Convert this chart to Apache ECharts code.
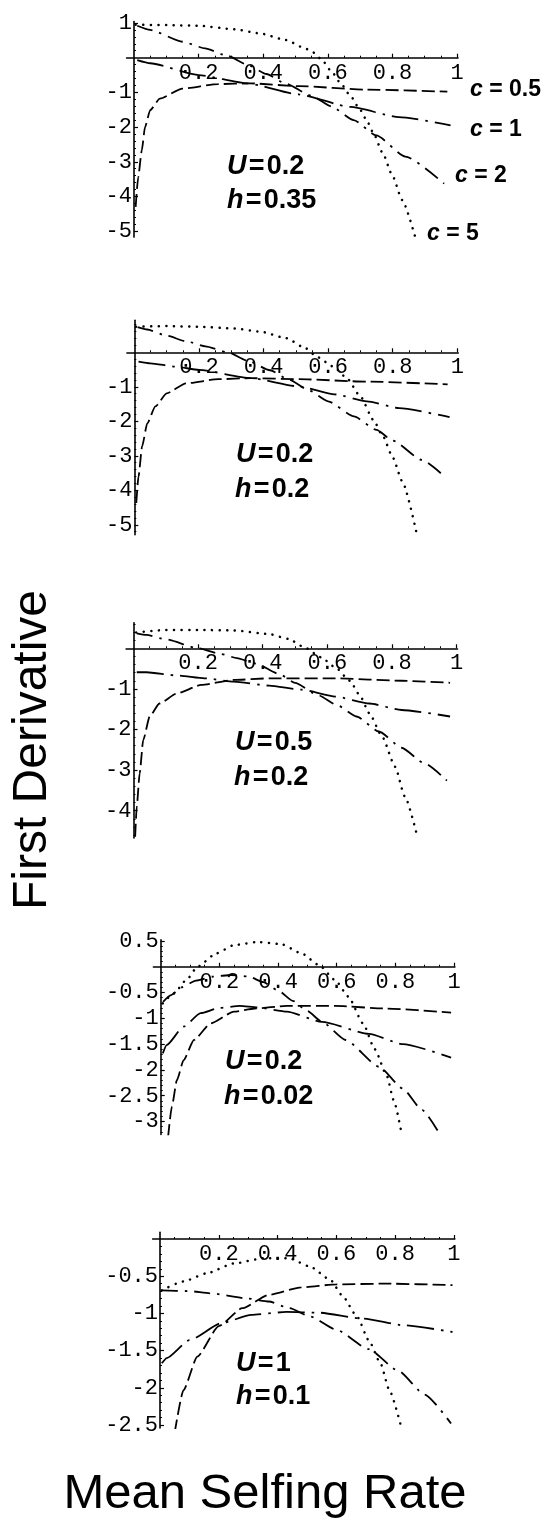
<!DOCTYPE html>
<html><head><meta charset="utf-8">
<script src="https://cdn.jsdelivr.net/npm/echarts@6/dist/echarts.min.js"></script>
<style>html,body{margin:0;padding:0;background:#fff}#c{width:546px;height:1523px}</style>
</head><body><div id="c"></div>
<script>
// ---------- data ----------
const xTickValues = [0.2, 0.4, 0.6, 0.8, 1];
const p1_yTicks = [1, -1, -2, -3, -4, -5];
const p2_yTicks = [-1, -2, -3, -4, -5];
const p3_yTicks = [-1, -2, -3, -4];
const p4_yTicks = [0.5, -0.5, -1, -1.5, -2, -2.5, -3];
const p5_yTicks = [-0.5, -1, -1.5, -2, -2.5];
const seriesNames = ['c = 0.5', 'c = 1', 'c = 2', 'c = 5'];
const panelU = ['0.2', '0.2', '0.5', '0.2', '1'];
const panelH = ['0.35', '0.2', '0.2', '0.02', '0.1'];

// Panel 1: U = 0.2, h = 0.35
const p1_c05 = [[0.005,-4.3],[0.013,-3.44],[0.024,-2.67],[0.034,-2.0],[0.05,-1.51],[0.08,-1.18],[0.15,-0.89],[0.26,-0.76],[0.36,-0.74],[0.51,-0.82],[0.72,-0.92],[0.97,-0.98]];
const p1_c1  = [[0.01,-0.07],[0.05,-0.16],[0.2,-0.5],[0.35,-0.74],[0.51,-1.06],[0.67,-1.42],[0.82,-1.71],[0.98,-1.95]];
const p1_c2  = [[0.01,0.92],[0.05,0.8],[0.15,0.46],[0.22,0.27],[0.29,0.05],[0.35,-0.2],[0.41,-0.47],[0.47,-0.75],[0.55,-1.1],[0.61,-1.4],[0.68,-1.8],[0.75,-2.24],[0.84,-2.85],[0.96,-3.63]];
const p1_c5  = [[0.005,0.95],[0.1,0.94],[0.2,0.92],[0.31,0.82],[0.39,0.7],[0.47,0.51],[0.53,0.27],[0.55,0.18],[0.58,-0.04],[0.61,-0.38],[0.64,-0.74],[0.67,-1.1],[0.7,-1.5],[0.72,-1.8],[0.74,-2.15],[0.77,-2.75],[0.8,-3.4],[0.83,-4.1],[0.87,-5.15]];

// Panel 2: U = 0.2, h = 0.2
const p2_c05 = [[0.006,-4.37],[0.013,-3.6],[0.024,-2.73],[0.04,-2.06],[0.065,-1.57],[0.1,-1.19],[0.16,-0.9],[0.26,-0.78],[0.36,-0.75],[0.51,-0.78],[0.72,-0.85],[0.97,-0.93]];
const p2_c1  = [[0.013,-0.27],[0.05,-0.32],[0.127,-0.415],[0.2,-0.51],[0.36,-0.75],[0.51,-0.99],[0.62,-1.22],[0.72,-1.42],[0.82,-1.62],[0.976,-1.88]];
const p2_c2  = [[0.01,0.73],[0.04,0.66],[0.1,0.48],[0.16,0.32],[0.22,0.17],[0.29,0.0],[0.35,-0.24],[0.42,-0.52],[0.48,-0.8],[0.54,-1.1],[0.6,-1.42],[0.68,-1.86],[0.75,-2.25],[0.8,-2.56],[0.89,-3.12],[0.96,-3.6]];
const p2_c5  = [[0.005,0.74],[0.1,0.76],[0.2,0.74],[0.31,0.69],[0.39,0.6],[0.47,0.41],[0.53,0.12],[0.565,-0.13],[0.617,-0.42],[0.658,-0.75],[0.7,-1.28],[0.74,-1.96],[0.77,-2.44],[0.8,-3.05],[0.83,-3.75],[0.875,-5.29]];

// Panel 3: U = 0.5, h = 0.2
const p3_c05 = [[0.005,-4.64],[0.01,-3.9],[0.019,-3.08],[0.03,-2.26],[0.05,-1.68],[0.08,-1.36],[0.135,-1.11],[0.21,-0.9],[0.31,-0.78],[0.42,-0.74],[0.625,-0.74],[0.83,-0.8],[0.98,-0.85]];
const p3_c1  = [[0.01,-0.59],[0.04,-0.59],[0.135,-0.67],[0.22,-0.74],[0.31,-0.82],[0.42,-0.92],[0.52,-1.02],[0.625,-1.19],[0.73,-1.36],[0.83,-1.52],[0.98,-1.68]];
const p3_c2  = [[0.01,0.37],[0.04,0.33],[0.1,0.22],[0.2,0.0],[0.27,-0.14],[0.32,-0.24],[0.38,-0.38],[0.45,-0.63],[0.5,-0.85],[0.57,-1.15],[0.63,-1.4],[0.69,-1.68],[0.76,-2.05],[0.83,-2.45],[0.9,-2.83],[0.97,-3.26]];
const p3_c5  = [[0.008,0.39],[0.1,0.45],[0.21,0.45],[0.31,0.44],[0.42,0.35],[0.48,0.23],[0.53,0.02],[0.58,-0.22],[0.625,-0.47],[0.67,-0.8],[0.7,-1.15],[0.73,-1.6],[0.77,-2.18],[0.81,-2.92],[0.84,-3.65],[0.88,-4.68]];

// Panel 4: U = 0.2, h = 0.02
const p4_c05 = [[0.025,-3.3],[0.038,-2.71],[0.055,-2.2],[0.078,-1.81],[0.113,-1.42],[0.17,-1.1],[0.25,-0.87],[0.32,-0.81],[0.43,-0.76],[0.595,-0.76],[0.77,-0.81],[0.99,-0.89]];
const p4_c1  = [[0.007,-1.68],[0.02,-1.52],[0.078,-1.16],[0.136,-0.9],[0.2,-0.8],[0.27,-0.76],[0.33,-0.79],[0.43,-0.87],[0.55,-1.07],[0.71,-1.3],[0.825,-1.5],[0.99,-1.76]];
const p4_c2  = [[0.008,-0.68],[0.035,-0.55],[0.07,-0.4],[0.12,-0.27],[0.18,-0.19],[0.24,-0.16],[0.3,-0.19],[0.35,-0.3],[0.4,-0.46],[0.45,-0.66],[0.5,-0.86],[0.55,-1.07],[0.63,-1.42],[0.745,-1.94],[0.825,-2.36],[0.89,-2.77],[0.95,-3.23]];
const p4_c5  = [[0.007,-0.71],[0.044,-0.52],[0.09,-0.24],[0.125,0.0],[0.19,0.26],[0.25,0.42],[0.33,0.48],[0.41,0.44],[0.48,0.26],[0.54,0.03],[0.595,-0.26],[0.64,-0.58],[0.69,-1.1],[0.73,-1.6],[0.77,-2.1],[0.795,-2.6],[0.82,-3.2]];

// Panel 5: U = 1, h = 0.1
const p5_c05 = [[0.05,-2.6],[0.08,-2.03],[0.127,-1.58],[0.2,-1.17],[0.28,-0.93],[0.37,-0.75],[0.48,-0.65],[0.6,-0.61],[0.77,-0.6],[0.995,-0.62]];
const p5_c1  = [[0.006,-1.67],[0.023,-1.6],[0.1,-1.36],[0.21,-1.13],[0.31,-1.02],[0.43,-0.98],[0.54,-0.99],[0.69,-1.07],[0.83,-1.16],[0.995,-1.25]];
const p5_c2  = [[0.006,-0.69],[0.1,-0.7],[0.17,-0.73],[0.3,-0.8],[0.37,-0.84],[0.44,-0.93],[0.51,-1.04],[0.6,-1.22],[0.71,-1.48],[0.81,-1.77],[0.9,-2.09],[0.99,-2.48]];
const p5_c5  = [[0.006,-0.69],[0.08,-0.57],[0.16,-0.46],[0.25,-0.33],[0.35,-0.26],[0.44,-0.26],[0.51,-0.37],[0.58,-0.55],[0.62,-0.76],[0.67,-1.04],[0.71,-1.36],[0.75,-1.67],[0.78,-2.03],[0.82,-2.52]];

// ---------- layout & style ----------
const panels = [
  {data:[p1_c05,p1_c1,p1_c2,p1_c5], yTicks:p1_yTicks, yMinorStep:0.2, yMajorStep:1,
   rect:{left:126.6, top:21.6, width:331.4, height:215.5}, x:[-0.023,1.003], y:[-5.17,1.04],
   uPos:[227,167], hPos:[227,200.5]},
  {data:[p2_c05,p2_c1,p2_c2,p2_c5], yTicks:p2_yTicks, yMinorStep:0.2, yMajorStep:1,
   rect:{left:126.9, top:320.2, width:331.4, height:214.6}, x:[-0.023,1.003], y:[-5.29,0.93],
   uPos:[236,454.5], hPos:[235,490]},
  {data:[p3_c05,p3_c1,p3_c2,p3_c5], yTicks:p3_yTicks, yMinorStep:0.2, yMajorStep:1,
   rect:{left:126.1, top:622.7, width:331.4, height:215.2}, x:[-0.023,1.003], y:[-4.67,0.63],
   uPos:[235,742.5], hPos:[234,778]},
  {data:[p4_c05,p4_c1,p4_c2,p4_c5], yTicks:p4_yTicks, yMinorStep:0.1, yMajorStep:0.5,
   rect:{left:153.4, top:939.9, width:301.5, height:194.5}, x:[-0.025,1.003], y:[-3.25,0.52],
   uPos:[225,1061.5], hPos:[224,1097]},
  {data:[p5_c05,p5_c1,p5_c2,p5_c5], yTicks:p5_yTicks, yMinorStep:0.1, yMajorStep:0.5,
   rect:{left:152.65, top:1232.3, width:302.2, height:195.7}, x:[-0.025,1.003], y:[-2.54,0.09],
   uPos:[236,1364], hPos:[236,1396.5]}
];

const lineStyles = [
  {color:'#000', width:1.8, type:[13,5]},
  {color:'#000', width:1.8, type:[27,7,2.5,7]},
  {color:'#000', width:1.8, type:[16,7,2.5,7]},
  {color:'#000', width:2.5, type:[0.1,7.5], cap:'round'}
];
const cLabelPos = [[470,90],[470,130],[455,176],[427,234]];

const MONO = '"Liberation Mono","Courier New",monospace';
const SANS = '"Liberation Sans",Arial,Helvetica,sans-serif';

function minorTicks(lo, hi, step, majorStep) {
  const out = [];
  const n0 = Math.ceil(lo / step - 1e-9), n1 = Math.floor(hi / step + 1e-9);
  for (let k = n0; k <= n1; k++) {
    const v = +(k * step).toFixed(4);
    if (Math.abs(v) < 1e-9) continue;
    const r = v / majorStep;
    if (Math.abs(r - Math.round(r)) < 1e-6) continue;
    out.push(v);
  }
  return out;
}

const option = {animation:false, backgroundColor:'#fff', grid:[], xAxis:[], yAxis:[], series:[], graphic:[]};

panels.forEach((p, i) => {
  const r = p.rect;
  option.grid.push({left:r.left, top:r.top, width:r.width, height:r.height, containLabel:false});
  const xi = option.xAxis.length, yi = option.yAxis.length;
  const xMinor = minorTicks(p.x[0], p.x[1], 0.05, 0.2);
  const yMinor = minorTicks(p.y[0], p.y[1], p.yMinorStep, p.yMajorStep);
  // shift axes from the grid edge to the zero crossing (axes cross at the origin)
  const xOff = -r.height * (-p.y[0]) / (p.y[1] - p.y[0]);
  const yOff = -r.width * (-p.x[0]) / (p.x[1] - p.x[0]);
  option.xAxis.push({type:'value', gridIndex:i, min:p.x[0], max:p.x[1], position:'bottom', offset:xOff,
    axisLine:{show:true, onZero:false, lineStyle:{color:'#000', width:1.6}},
    axisTick:{show:true, inside:true, length:4, customValues:xTickValues, lineStyle:{color:'#000', width:1.2}},
    axisLabel:{show:true, customValues:xTickValues, margin:4, fontFamily:MONO, fontSize:22, color:'#000',
      formatter:v => String(v)},
    splitLine:{show:false}});
  option.xAxis.push({type:'value', gridIndex:i, min:p.x[0], max:p.x[1], position:'bottom', offset:xOff,
    axisLine:{show:false, onZero:false},
    axisTick:{show:true, inside:true, length:2, customValues:xMinor, lineStyle:{color:'#000', width:1}},
    axisLabel:{show:false}, splitLine:{show:false}});
  option.yAxis.push({type:'value', gridIndex:i, min:p.y[0], max:p.y[1], position:'left', offset:yOff,
    axisLine:{show:true, onZero:false, lineStyle:{color:'#000', width:1.6}},
    axisTick:{show:true, inside:true, length:4, customValues:p.yTicks, lineStyle:{color:'#000', width:1.2}},
    axisLabel:{show:true, customValues:p.yTicks, margin:2, fontFamily:MONO, fontSize:22, color:'#000',
      formatter:v => String(v)},
    splitLine:{show:false}});
  option.yAxis.push({type:'value', gridIndex:i, min:p.y[0], max:p.y[1], position:'left', offset:yOff,
    axisLine:{show:false, onZero:false},
    axisTick:{show:true, inside:true, length:2, customValues:yMinor, lineStyle:{color:'#000', width:1}},
    axisLabel:{show:false}, splitLine:{show:false}});

  p.data.forEach((d, k) => {
    option.series.push({type:'line', name:seriesNames[k], xAxisIndex:xi, yAxisIndex:yi, data:d,
      showSymbol:false, symbol:'none', smooth:0.2, smoothMonotone:'x', clip:true,
      lineStyle:lineStyles[k], z:2});
  });

  const annRich = {i:{fontStyle:'italic', fontWeight:'bold', fontFamily:SANS, fontSize:27, fill:'#000'},
                   n:{fontWeight:'bold', fontFamily:SANS, fontSize:27, fill:'#000'}};
  option.graphic.push({type:'text', x:p.uPos[0], y:p.uPos[1],
    style:{text:'{i|U}{n|\u200A=\u200A' + panelU[i] + '}', align:'left', verticalAlign:'middle', fill:'#000', rich:annRich}});
  option.graphic.push({type:'text', x:p.hPos[0], y:p.hPos[1],
    style:{text:'{i|h}{n|\u200A=\u200A' + panelH[i] + '}', align:'left', verticalAlign:'middle', fill:'#000', rich:annRich}});
});

// curve labels in first panel
seriesNames.forEach((nm, k) => {
  option.graphic.push({type:'text', x:cLabelPos[k][0], y:cLabelPos[k][1],
    style:{text:'{i|c}{n|' + nm.slice(1) + '}', align:'left', verticalAlign:'middle', fill:'#000',
      rich:{i:{fontStyle:'italic', fontWeight:'bold', fontFamily:SANS, fontSize:23, fill:'#000'},
            n:{fontWeight:'bold', fontFamily:SANS, fontSize:23, fill:'#000'}}}});
});

// axis titles
option.graphic.push({type:'text', x:33, y:750, rotation:Math.PI/2,
  style:{text:'First Derivative', align:'center', verticalAlign:'middle', font:'48px ' + SANS, fill:'#000'}});
option.graphic.push({type:'text', x:265, y:1494,
  style:{text:'Mean Selfing Rate', align:'center', verticalAlign:'middle', font:'49px ' + SANS, fill:'#000'}});

const chart = echarts.init(document.getElementById('c'), null, {renderer:'canvas', width:546, height:1523});
chart.setOption(option);
</script>
</body></html>
